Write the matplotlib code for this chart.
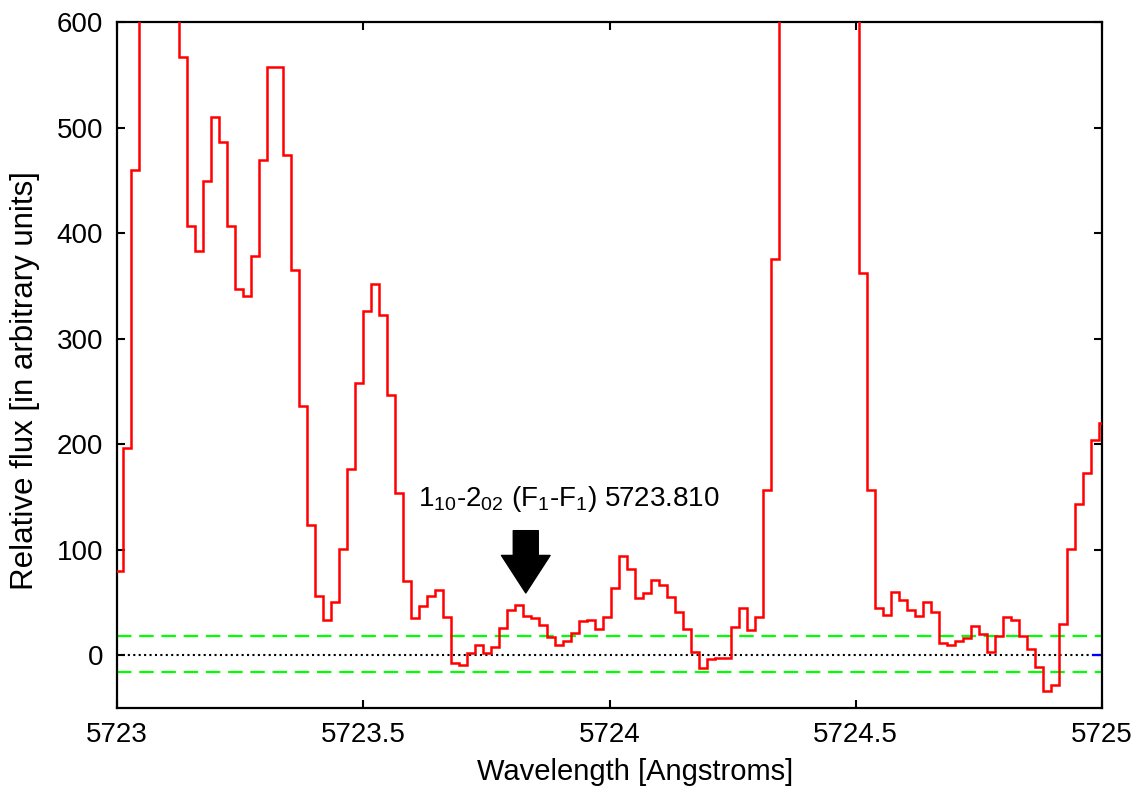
import numpy as np
import matplotlib
matplotlib.use("Agg")
import matplotlib.pyplot as plt

# Spectrum: uniform pixel grid, flux per pixel (values above 600 lie off the plot)
LAM_START = 5722.99594   # left edge of first pixel [Angstroms]
LAM_STEP = 0.016244      # pixel width [Angstroms]
flux = [
    80, 196, 460, 700, 860, 900, 780, 650, 567, 407,
    383, 449, 510, 486, 407, 347, 340, 378, 469, 557,
    557, 474, 365, 236, 123, 56, 33, 50, 101, 176,
    258, 326, 352, 322, 247, 154, 70, 35, 47, 56,
    62, 36, -7, -9, 2, 10, 2, 8, 26, 43,
    48, 37, 35, 29, 17, 10, 13, 21, 32, 33,
    25, 36, 64, 94, 82, 54, 59, 71, 67, 55,
    41, 25, 3, -12, -4, -3, -3, 27, 45, 24,
    36, 157, 375, 720, 1050, 1500, 1800, 1700, 1400, 1100,
    880, 740, 640, 362, 157, 45, 38, 60, 52, 43,
    37, 50, 41, 12, 10, 13, 16, 28, 20, 3,
    18, 36, 33, 18, 6, -11, -34, -28, 30, 101,
    143, 173, 204, 220,
]

# noise band and zero level
noise_hi = 18.3
noise_lo = -16.3
blue_x = [5724.982, 5725.02]
blue_y = [0, 0]

# line identification
line_label = r"1$_{10}$-2$_{02}$ (F$_{1}$-F$_{1}$) 5723.810"
arrow_x = 5723.83
arrow_top = 118
arrow_tip = 59
label_pos = (5723.612, 141)

xticks = [5723, 5723.5, 5724, 5724.5, 5725]
xticklabels = ["5723", "5723.5", "5724", "5724.5", "5725"]
yticks = [0, 100, 200, 300, 400, 500, 600]

plt.rcParams['font.family'] = ['Liberation Sans', 'DejaVu Sans']
plt.rcParams['mathtext.fontset'] = 'custom'
plt.rcParams['mathtext.rm'] = 'Liberation Sans'
plt.rcParams['mathtext.it'] = 'Liberation Sans'
plt.rcParams['mathtext.default'] = 'regular'

fig = plt.figure(figsize=(11.46, 7.93), dpi=100)
ax = fig.add_axes([0.1021, 0.1072, 0.8595, 0.8651])

edges = LAM_START + LAM_STEP * np.arange(len(flux) + 1)

ax.axhline(noise_hi, color='#00ff00', lw=1.6, ls=(0, (6.5, 3.5)), zorder=1)
ax.axhline(noise_lo, color='#00ff00', lw=1.6, ls=(0, (6.5, 3.5)), zorder=1)
ax.axhline(0, color='black', lw=1.5, ls=(0, (1, 1.6)), zorder=1)
ax.plot(blue_x, blue_y, color='blue', lw=1.6, zorder=2)
ax.stairs(flux, edges, baseline=None, color='red', lw=1.8, zorder=3)

ax.annotate('', xy=(arrow_x, arrow_tip), xytext=(arrow_x, arrow_top),
            arrowprops=dict(arrowstyle='simple,head_length=2.7,head_width=3.5,tail_width=1.8',
                            mutation_scale=10, fc='black', ec='black',
                            shrinkA=0, shrinkB=0))
ax.text(label_pos[0], label_pos[1], line_label, fontsize=20, va='baseline', ha='left')

ax.set_xlim(5723, 5725)
ax.set_ylim(-50, 600)
ax.set_xticks(xticks)
ax.set_xticklabels(xticklabels)
ax.set_yticks(yticks)
ax.tick_params(direction='in', length=6, width=1.5, labelsize=20,
               top=True, right=True, pad=10)
for s in ax.spines.values():
    s.set_linewidth(1.6)

ax.set_xlabel('Wavelength [Angstroms]', fontsize=21, labelpad=7)
ax.set_ylabel('Relative flux [in arbitrary units]', fontsize=22.5, labelpad=12)
# gnuplot places the axis titles slightly off-centre
ax.xaxis.label.set_x(0.526)
ax.yaxis.label.set_y(0.478)

fig.savefig('out.png', dpi=100)
